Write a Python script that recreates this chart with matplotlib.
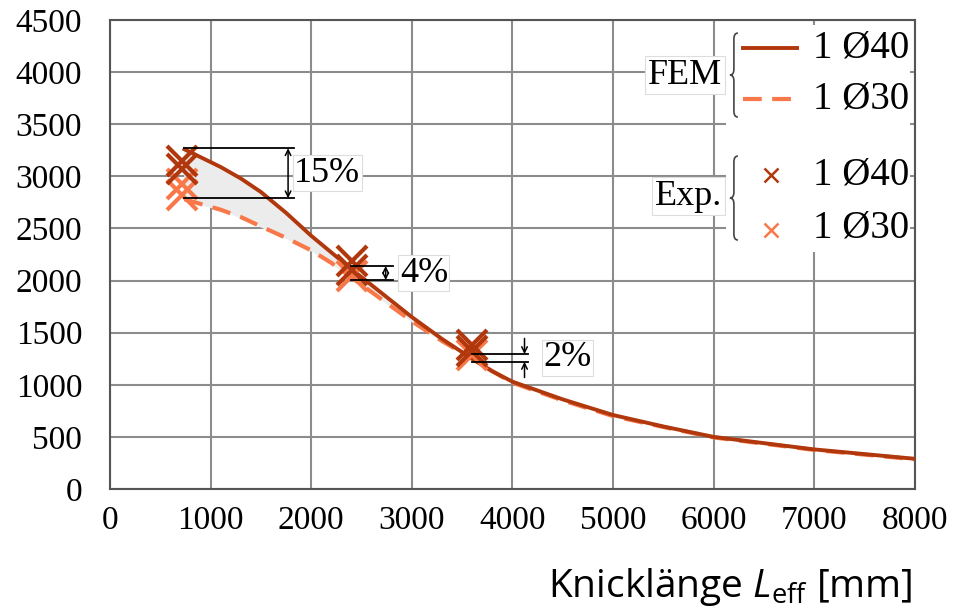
import matplotlib.pyplot as plt
import numpy as np
from matplotlib.path import Path
from matplotlib.patches import PathPatch

plt.rcParams['font.family'] = ['Liberation Serif', 'DejaVu Serif']
plt.rcParams['mathtext.fontset'] = 'custom'
plt.rcParams['mathtext.rm'] = 'Open Sans'
plt.rcParams['mathtext.it'] = 'Open Sans:italic'

# FEM curves (Knicklaenge in mm, load)
fem_x = [740, 1100, 1300, 1500, 1750, 2000, 2200, 2400, 2700, 3000, 3300, 3600, 3800,
         4000, 4500, 5000, 5500, 6000, 6500, 7000, 7500, 8000]
fem40 = [3260, 3090, 2980, 2850, 2650, 2430, 2270, 2110, 1880, 1650, 1440, 1250, 1130,
         1030, 860, 710, 600, 500, 440, 380, 335, 290]
fem30 = [2780, 2680, 2610, 2520, 2410, 2290, 2170, 2030, 1820, 1610, 1420, 1250, 1130,
         1020, 850, 700, 595, 495, 435, 375, 330, 285]

# experiments
exp40_x = [716, 716, 2405, 2405, 3600, 3600]
exp40_y = [3150, 3075, 2190, 2100, 1385, 1320]
exp30_x = [716, 716, 2405, 3600]
exp30_y = [2930, 2820, 2040, 1290]

xticks = list(range(0, 8001, 1000))
yticks = list(range(0, 4501, 500))
xticklabels = [str(v) for v in xticks]
yticklabels = [str(v) for v in yticks]

c40 = '#b0380c'
c30 = '#f8784a'

fig = plt.figure(figsize=(9.54, 6.08), dpi=100)
ax = fig.add_axes([0.1153, 0.1957, 0.8437, 0.7713])

mask = np.array(fem_x) <= 3600
ax.fill_between(np.array(fem_x)[mask], np.array(fem30)[mask], np.array(fem40)[mask],
                color='#ececec', zorder=1)
ax.plot(fem_x, fem30, '--', color=c30, lw=3, dashes=(4.5, 2.5), zorder=2)
ax.plot(fem_x, fem40, '-', color=c40, lw=2.8, zorder=3)
ax.plot(exp30_x, exp30_y, 'x', color=c30, ms=22, mew=3, zorder=4)
ax.plot(exp40_x, exp40_y, 'x', color=c40, ms=22, mew=3, zorder=5)

ax.set_xlim(0, 8000)
ax.set_ylim(0, 4500)
ax.set_xticks(xticks)
ax.set_xticklabels(xticklabels, family='Liberation Serif', fontsize=24)
ax.set_yticks(yticks)
ax.set_yticklabels(yticklabels, family='Liberation Serif', fontsize=24)
ax.grid(True, color='#8c8c8c', lw=1.5)
ax.set_axisbelow(True)
for s in ax.spines.values():
    s.set_color('#555555')
    s.set_linewidth(1.5)
ax.tick_params(axis='both', length=0)
ax.tick_params(axis='x', pad=12)
ax.tick_params(axis='y', pad=20)

fig.text(0.957, 0.018, r'Knicklänge $L_{\mathrm{eff}}$ [mm]', ha='right', va='baseline',
         fontsize=28, family='Open Sans')


# difference brackets
def bracket(x0, x1, xa, ylo, yhi, label, xt, inward=False):
    ax.plot([x0, x1], [yhi, yhi], color='black', lw=1.3, zorder=6)
    ax.plot([x0, x1], [ylo, ylo], color='black', lw=1.3, zorder=6)
    if not inward:
        ax.annotate('', xy=(xa, yhi), xytext=(xa, ylo),
                    arrowprops=dict(arrowstyle='<->', lw=1.1, color='black',
                                    shrinkA=0, shrinkB=0), zorder=6)
    else:
        ax.annotate('', xy=(xa, yhi), xytext=(xa, yhi + 150),
                    arrowprops=dict(arrowstyle='->', lw=1.1, color='black',
                                    shrinkA=0, shrinkB=0))
        ax.annotate('', xy=(xa, ylo), xytext=(xa, ylo - 150),
                    arrowprops=dict(arrowstyle='->', lw=1.1, color='black',
                                    shrinkA=0, shrinkB=0))
    ax.text(xt, (ylo + yhi) / 2, label, fontsize=26, va='center', ha='left',
            zorder=7, bbox=dict(facecolor='white', edgecolor='#dddddd', lw=0.8, pad=1))


bracket(740, 1830, 1770, 2790, 3270, '15%', 1830)
bracket(2400, 2810, 2740, 2005, 2140, '4%', 2880)
bracket(3600, 4150, 4120, 1220, 1295, '2%', 4310, inward=True)

# custom legend with braces
tr = ax.transAxes


def px(x, y):
    return ((x - 110) / 805, (489 - y) / 469)


x0, y0 = px(726, 252)
x1, y1 = px(910, 25)
ax.add_patch(plt.Rectangle((x0, y0), x1 - x0, y1 - y0, transform=tr, facecolor='white',
                           edgecolor='none', zorder=8))


def brace(xr, ytop, ybot):
    ym = (ytop + ybot) / 2
    w = 8
    verts = [px(xr, ytop), px(xr - w / 2, ytop), px(xr - w / 2, ytop + 6),
             px(xr - w / 2, ym - 6), px(xr - w / 2, ym), px(xr - w, ym),
             px(xr - w / 2, ym), px(xr - w / 2, ym + 6),
             px(xr - w / 2, ybot - 6), px(xr - w / 2, ybot), px(xr, ybot)]
    codes = [Path.MOVETO, Path.CURVE3, Path.CURVE3, Path.LINETO, Path.CURVE3, Path.CURVE3,
             Path.CURVE3, Path.CURVE3, Path.LINETO, Path.CURVE3, Path.CURVE3]
    ax.add_patch(PathPatch(Path(verts, codes), transform=tr, facecolor='none',
                           edgecolor='#444444', lw=1.2, zorder=9, clip_on=False))


brace(738, 33, 117)
brace(738, 156, 240)

for yy, lab in [(75, 'FEM'), (196, 'Exp.')]:
    ax.text(*px(722, yy), lab, transform=tr, fontsize=26, ha='right',
            va='center', zorder=10,
            bbox=dict(facecolor='white', edgecolor='#dddddd', lw=0.8, pad=2))

ax.plot(*zip(px(743, 48), px(797, 48)), transform=tr, color=c40, lw=2.8, zorder=10)
ax.plot(*zip(px(743, 99), px(795, 99)), transform=tr, color=c30, lw=3, dashes=(4.5, 2.5),
        zorder=10)
ax.plot(*px(771, 175), 'x', transform=tr, color=c40, ms=10, mew=1.8, zorder=10)
ax.plot(*px(771, 230), 'x', transform=tr, color=c30, ms=10, mew=1.8, zorder=10)
for yy, lab in [(48, '1 Ø40'), (99, '1 Ø30'), (175, '1 Ø40'), (228, '1 Ø30')]:
    ax.text(*px(813, yy), lab, transform=tr, fontsize=28, ha='left',
            va='center', zorder=10)

fig.savefig('out.png', dpi=100)
